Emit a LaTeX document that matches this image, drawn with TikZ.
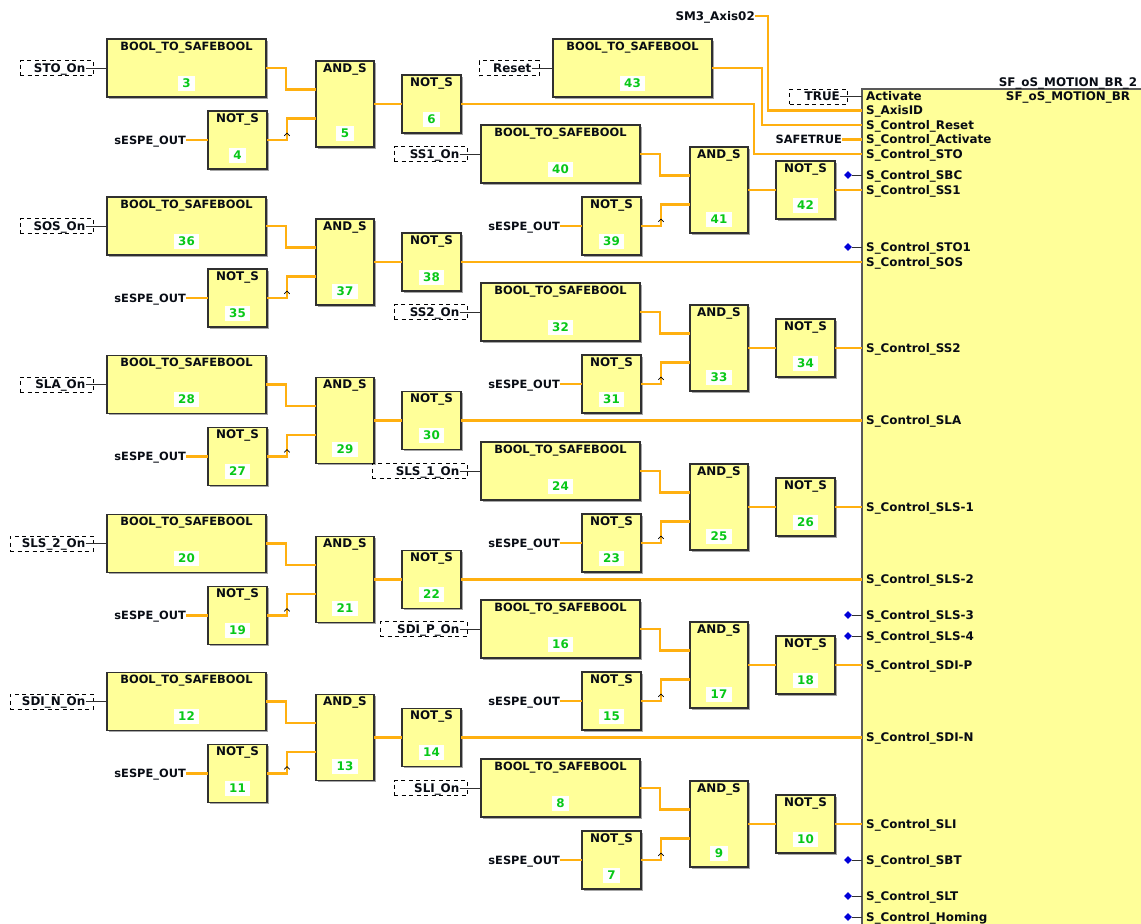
\documentclass[tikz,border=0pt]{standalone}
\usepackage{fontspec}
\setmainfont{DejaVu Sans}
\usetikzlibrary{shapes.geometric,shadows,calc}
\definecolor{fbyellow}{HTML}{FFFF99}
\definecolor{fbwire}{HTML}{FFB010}
\definecolor{fbgreen}{HTML}{08C818}
\definecolor{fbborder}{HTML}{303030}
\definecolor{fbtext}{HTML}{080C14}
\tikzset{
  lbl/.style={font=\fontsize{11.9}{13}\selectfont\bfseries,text=fbtext,inner sep=0pt,text height=8.6pt,text depth=0pt},
  longlbl/.style={lbl,font=\fontsize{11.4}{13}\selectfont\bfseries},
  fb/.style={rectangle,draw=fbborder,line width=1.5pt,fill=fbyellow,anchor=north west,inner sep=0pt,outer sep=0pt,
    drop shadow={shadow xshift=1.6pt,shadow yshift=-1.6pt,opacity=.7,fill=gray}},
  numlbl/.style={lbl,text=fbgreen,fill=white,inner xsep=4.5pt,inner ysep=3.2pt},
  dashbox/.style={rectangle,draw=black,line width=.7pt,dash pattern=on 4pt off 3.5pt,minimum height=15pt,inner sep=0pt,anchor=east},
  wire/.style={draw=fbwire,line width=2.4pt},
  sig/.style={draw=fbborder,line width=1pt},
  caretmark/.style={draw=black,line width=.6pt},
  dot/.style={diamond,fill=blue!85!black,inner sep=0pt,minimum size=8pt}
}
% block: name, x, y, w, h, title, number, title style
\newcommand{\blk}[8]{%
  \node[fb,minimum width=#4pt,minimum height=#5pt] (#1) at (#2,#3) {};
  \node[#8] (#1t) at ([yshift=-7pt]#1.north) {#6};
  \node[numlbl] (#1n) at ([yshift=14pt]#1.south) {#7};
}
% dashed input: name, box width, text, target node
\newcommand{\inp}[4]{%
  \node[dashbox,minimum width=#2pt] (#1box) at ([xshift=-13.5pt]#4.west) {};
  \node[lbl,anchor=east] (#1) at ([xshift=-21.5pt]#4.west) {#3};
  \draw[sig] (#1.east) -- (#4.west);
}
% group: x offset, top, bool no, not no, and no, out no, input text, dashed width
\newcommand{\grp}[8]{%
  \blk{b#3}{107+#1}{#2}{159}{58}{BOOL\_TO\_SAFEBOOL}{#3}{longlbl}
  \blk{n#4}{208+#1}{#2+72}{59}{58}{NOT\_S}{#4}{lbl}
  \blk{a#5}{316+#1}{#2+22}{58}{86}{AND\_S}{#5}{lbl}
  \blk{o#6}{402+#1}{#2+36}{59}{58}{NOT\_S}{#6}{lbl}
  \inp{i#3}{#8}{#7}{b#3}
  \node[longlbl,anchor=east] (s#4) at ([xshift=-22pt]n#4.west) {sESPE\_OUT};
  \draw[wire] (s#4.east) -- (n#4.west);
  \draw[wire] (b#3.east) -- ++(20,0) |- ([yshift=14.5pt]a#5.west);
  \draw[wire] (n#4.east) -- ++(20,0) |- ([yshift=-14.5pt]a#5.west);
  \draw[wire] (a#5.east) -- (o#6.west);
  \draw[caretmark] (n#4.east) ++(17.3,-4.2) -- ++(2.7,-2.7) -- ++(2.7,2.7);
}
% pin: name, y, text
\newcommand{\pin}[3]{%
  \coordinate (#1) at (862,#2);
  \node[lbl,anchor=west] (#1t) at (866,#2) {#3};
}
% open pin with a blue dot
\newcommand{\openpin}[3]{%
  \pin{#1}{#2}{#3}
  \node[dot] (#1d) at (848,#2) {};
  \draw[sig] (#1d) -- (#1);
}
\begin{document}
\begin{tikzpicture}[x=1pt,y=-1pt]
\useasboundingbox (0,0) rectangle (1141,924);
\node[rectangle,fill=fbyellow,anchor=north west,inner sep=0pt,outer sep=0pt,minimum width=279pt,minimum height=835pt] (main) at (862,89) {};
\draw[draw=fbborder!80,line width=1.4pt] (main.north east) -- (main.north west) -- (main.south west);
\node[lbl] (mname) at (1068,82) {SF\_oS\_MOTION\_BR\_2};
\node[lbl] (mtype) at (1068,96) {SF\_oS\_MOTION\_BR};

\pin{pAct}{96}{Activate}
\pin{pAxis}{110.5}{S\_AxisID}
\pin{pReset}{125}{S\_Control\_Reset}
\pin{pCAct}{139.5}{S\_Control\_Activate}
\pin{pSTO}{154}{S\_Control\_STO}
\openpin{pSBC}{175}{S\_Control\_SBC}
\pin{pSSa}{190}{S\_Control\_SS1}
\openpin{pSTOa}{247}{S\_Control\_STO1}
\pin{pSOS}{262}{S\_Control\_SOS}
\pin{pSSb}{348}{S\_Control\_SS2}
\pin{pSLA}{420.5}{S\_Control\_SLA}
\pin{pSLSa}{507}{S\_Control\_SLS-1}
\pin{pSLSb}{579.5}{S\_Control\_SLS-2}
\openpin{pSLSc}{615}{S\_Control\_SLS-3}
\openpin{pSLSd}{636}{S\_Control\_SLS-4}
\pin{pSDIP}{665}{S\_Control\_SDI-P}
\pin{pSDIN}{737.5}{S\_Control\_SDI-N}
\pin{pSLI}{824}{S\_Control\_SLI}
\openpin{pSBT}{860}{S\_Control\_SBT}
\openpin{pSLT}{896}{S\_Control\_SLT}
\openpin{pHom}{917}{S\_Control\_Homing}

\grp{0}{39}{3}{4}{5}{6}{STO\_On}{73}
\grp{0}{197}{36}{35}{37}{38}{SOS\_On}{73}
\grp{0}{355.5}{28}{27}{29}{30}{SLA\_On}{73}
\grp{0}{514.5}{20}{19}{21}{22}{SLS\_2\_On}{83}
\grp{0}{672.5}{12}{11}{13}{14}{SDI\_N\_On}{83}
\grp{374}{125}{40}{39}{41}{42}{SS1\_On}{73}
\grp{374}{283}{32}{31}{33}{34}{SS2\_On}{73}
\grp{374}{442}{24}{23}{25}{26}{SLS\_1\_On}{95}
\grp{374}{600}{16}{15}{17}{18}{SDI\_P\_On}{87}
\grp{374}{759}{8}{7}{9}{10}{SLI\_On}{73}

\blk{b43}{553}{39}{159}{58}{BOOL\_TO\_SAFEBOOL}{43}{longlbl}
\inp{i43}{60}{Reset}{b43}
\draw[wire] (b43.east) -- ++(50,0) |- (pReset);
\draw[wire] (o6.east) -- ++(293,0) |- (pSTO);

\node[lbl,anchor=east] (axis) at (755,16) {SM3\_Axis02};
\draw[wire] (axis.east) -- ++(13,0) |- (pAxis);
\node[longlbl,anchor=east] (safe) at (842,139.5) {SAFETRUE};
\draw[wire] (safe.east) -- (pCAct);
\node[dashbox,minimum width=58pt] (truebox) at (848,96.5) {};
\node[lbl,anchor=east] (truev) at (840,96) {TRUE};
\draw[sig] (truev.east) -- (pAct);

\draw[wire] (o38.east) -- (pSOS);
\draw[wire] (o30.east) -- (pSLA);
\draw[wire] (o22.east) -- (pSLSb);
\draw[wire] (o14.east) -- (pSDIN);
\draw[wire] (o42.east) -- (pSSa);
\draw[wire] (o34.east) -- (pSSb);
\draw[wire] (o26.east) -- (pSLSa);
\draw[wire] (o18.east) -- (pSDIP);
\draw[wire] (o10.east) -- (pSLI);
\end{tikzpicture}
\end{document}
